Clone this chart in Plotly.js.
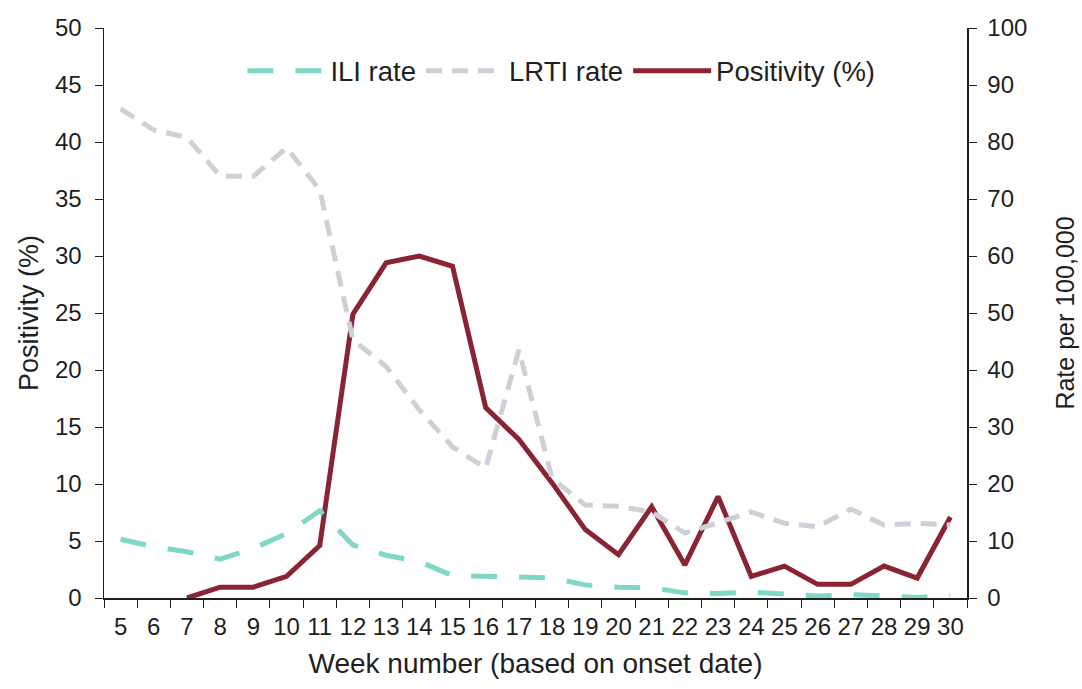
<!DOCTYPE html>
<html>
<head>
<meta charset="utf-8">
<script src="https://cdn.plot.ly/plotly-3.0.1.min.js"></script>
<style>html,body{margin:0;padding:0;background:#fff;}#chart{width:1082px;height:689px;}</style>
</head>
<body>
<div id="chart"></div>
<script>
var weeks = ["5","6","7","8","9","10","11","12","13","14","15","16","17","18","19","20","21","22","23","24","25","26","27","28","29","30"];
var iliRate = [10.3, 9.0, 8.1, 6.8, 8.7, 11.3, 15.3, 9.3, 7.5, 6.4, 3.9, 3.9, 3.7, 3.5, 2.3, 1.9, 1.8, 0.9, 0.8, 1.05, 0.8, 0.35, 0.6, 0.4, 0.1, 0.5];
var lrtiRate = [85.8, 82.1, 80.8, 74.0, 74.0, 79.0, 71.6, 45.3, 40.6, 33.0, 26.5, 22.8, 43.5, 21.0, 16.3, 16.1, 15.1, 11.4, 13.2, 15.1, 13.1, 12.5, 15.6, 12.8, 13.1, 12.8];
var positivity = [null, null, 0, 0.95, 0.95, 1.9, 4.6, 24.9, 29.4, 30.0, 29.1, 16.7, 13.9, 10.1, 6.0, 3.8, 8.0, 2.9, 8.9, 1.9, 2.8, 1.2, 1.2, 2.8, 1.75, 7.1];

var FONT = "Liberation Sans, Arial, sans-serif";
var INK = "#1f1f1f";
var traces = [
  {x: weeks, y: iliRate, name: "ILI rate", type: "scatter", mode: "lines", yaxis: "y2",
   line: {color: "#7fd8c5", width: 5, dash: "26px,22px"}},
  {x: weeks, y: lrtiRate, name: "LRTI rate", type: "scatter", mode: "lines", yaxis: "y2",
   line: {color: "#cdd1d7", width: 5, dash: "16px,10px"}},
  {x: weeks, y: positivity, name: "Positivity (%)", type: "scatter", mode: "lines", yaxis: "y",
   line: {color: "#8a2433", width: 5}}
];

var layout = {
  width: 1082, height: 689,
  margin: {l: 104, r: 115, t: 28, b: 91},
  paper_bgcolor: "#fff", plot_bgcolor: "#fff",
  font: {family: FONT, size: 24, color: INK},
  showlegend: true,
  legend: {orientation: "h", x: 0.53, xanchor: "center", y: 0.925, yanchor: "middle",
           font: {family: FONT, size: 27.5, color: INK}, itemwidth: 78, bgcolor: "rgba(0,0,0,0)",
           tracegroupgap: 0},
  xaxis: {type: "category", range: [-0.5, 25.5], tickson: "boundaries", ticks: "outside", ticklen: 8,
          tickangle: 0,
          tickcolor: INK, showline: true, linecolor: INK, linewidth: 1.5, showgrid: false,
          tickfont: {family: FONT, size: 24, color: INK}, ticklabelstandoff: 7,
          title: {text: "Week number (based on onset date)", font: {family: FONT, size: 28, color: INK}, standoff: 14}},
  yaxis: {range: [0, 50], dtick: 5, ticks: "outside", ticklen: 8, tickcolor: INK, showline: true,
          linecolor: INK, linewidth: 1.5, showgrid: false, zeroline: false,
          tickfont: {family: FONT, size: 24, color: INK}, ticklabelstandoff: 8,
          title: {text: "Positivity (%)", font: {family: FONT, size: 27, color: INK}, standoff: 8}},
  yaxis2: {range: [0, 100], dtick: 10, overlaying: "y", side: "right", ticks: "outside", ticklen: 8,
           tickcolor: INK, showline: true, linecolor: INK, linewidth: 1.5, showgrid: false, zeroline: false,
           tickfont: {family: FONT, size: 24, color: INK}, ticklabelstandoff: 6,
           title: {text: "Rate per 100,000", font: {family: FONT, size: 25, color: INK}, standoff: 30}}
};

Plotly.newPlot("chart", traces, layout, {displayModeBar: false, staticPlot: true});
</script>
</body>
</html>
